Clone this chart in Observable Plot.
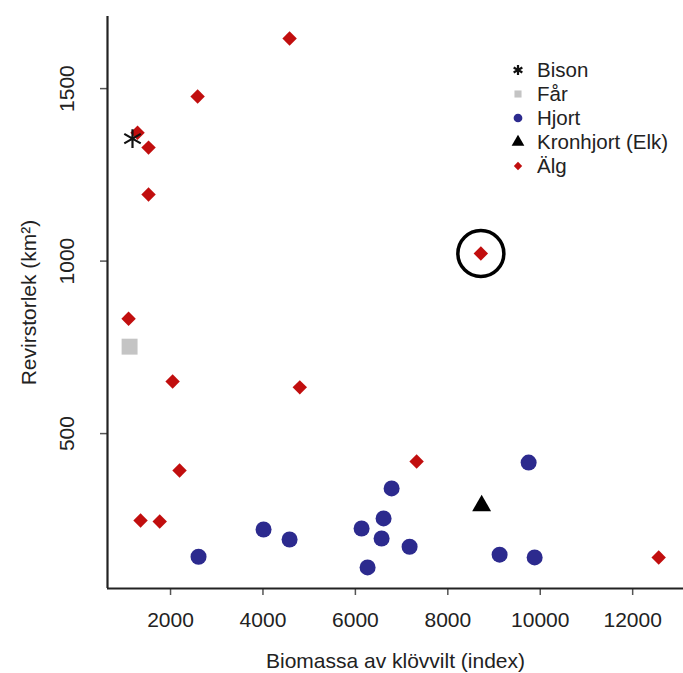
<!DOCTYPE html>
<html>
<head>
<meta charset="utf-8">
<script src="https://cdn.jsdelivr.net/npm/d3@7"></script>
<script src="https://cdn.jsdelivr.net/npm/@observablehq/plot@0.6"></script>
<style>
  html, body { margin: 0; padding: 0; background: #fff; }
  #wrap { position: relative; width: 683px; height: 673px; font-family: "Liberation Sans", Arial, sans-serif; }
  #legend { position: absolute; left: 505px; top: 58px; font-size: 20.5px; color: #222; line-height: 24px; }
  #legend .row { display: flex; align-items: center; height: 24px; white-space: nowrap; }
  #legend svg { width: 26px; height: 24px; margin-right: 6px; overflow: visible; }
</style>
</head>
<body>
<div id="wrap"><div id="legend"></div></div>
<script>
// ---- data ----
const speciesNames = ["Bison", "Får", "Hjort", "Kronhjort (Elk)", "Älg"];
const speciesColors = ["#111111", "#c4c4c4", "#2c2a8e", "#000000", "#c10e0e"];
const speciesSymbols = ["asterisk", "square", "circle", "triangle", "diamond2"];

const bisonX = [1177];
const bisonY = [1355];

const farX = [1114];
const farY = [752];

const hjortX = [2606, 4013, 4576, 6134, 6264, 6567, 6610, 6784, 7173, 9121, 9879, 9749];
const hjortY = [143, 222, 193, 225, 112, 196, 254, 341, 172, 149, 141, 416];

const elkX = [8732];
const elkY = [291];

const algX = [4576, 2586, 1286, 1524, 1524, 1092, 2045, 4797, 8715, 2195, 1351, 1766, 7325, 12563];
const algY = [1645, 1477, 1372, 1329, 1193, 833, 651, 634, 1022, 393, 248, 245, 419, 141];
const circledAlgIndex = 8; // the encircled moose point

const xTicks = [2000, 4000, 6000, 8000, 10000, 12000];
const yTicks = [500, 1000, 1500];
const xTitle = "Biomassa av klövvilt (index)";
const yTitle = "Revirstorlek (km²)";

// ---- build tables ----
const toRows = (xs, ys, sp) => xs.map((x, i) => ({x, y: ys[i], species: sp}));
const bison = toRows(bisonX, bisonY, "Bison");
const far = toRows(farX, farY, "Får");
const hjort = toRows(hjortX, hjortY, "Hjort");
const elk = toRows(elkX, elkY, "Kronhjort (Elk)");
const alg = toRows(algX, algY, "Älg");
const circled = [alg[circledAlgIndex]];

const axisColor = "#222";
const chart = Plot.plot({
  width: 683,
  height: 673,
  marginLeft: 107,
  marginRight: 0,
  marginTop: 16,
  marginBottom: 85,
  style: {fontFamily: "'Liberation Sans', Arial, sans-serif", fontSize: "21px", color: "#222", background: "#fff"},
  x: {domain: [636, 13100]},
  y: {domain: [51, 1709]},
  marks: [
    Plot.axisX({ticks: xTicks, tickSize: 7, tickPadding: 17, tickFormat: d => String(d),
      stroke: "#555", strokeWidth: 1.5, fill: "#222",
      label: xTitle, labelAnchor: "center", labelArrow: "none", labelOffset: 79}),
    Plot.axisY({ticks: yTicks, tickSize: 7, tickPadding: 27, tickRotate: -90, tickFormat: d => String(d),
      stroke: "#555", strokeWidth: 1.5, fill: "#222",
      label: yTitle, labelAnchor: "center", labelArrow: "none", labelOffset: 86}),
    Plot.ruleX([636], {stroke: axisColor, strokeWidth: 2.2}),
    Plot.ruleY([51], {stroke: axisColor, strokeWidth: 2.2}),
    Plot.dot(far, {x: "x", y: "y", symbol: "square", r: 9, fill: speciesColors[1]}),
    Plot.dot(hjort, {x: "x", y: "y", symbol: "circle", r: 8, fill: speciesColors[2]}),
    Plot.dot(elk, {x: "x", y: "y", symbol: "triangle", r: 7, fill: speciesColors[3]}),
    Plot.dot(alg, {x: "x", y: "y", symbol: "diamond2", r: 6.5, fill: speciesColors[4]}),
    Plot.dot(bison, {x: "x", y: "y", symbol: "asterisk", r: 9, stroke: speciesColors[0], strokeWidth: 2.2}),
    Plot.dot(circled, {x: "x", y: "y", r: 23, stroke: "#000", strokeWidth: 3.5, fill: "none"})
  ]
});
document.getElementById("wrap").prepend(chart);

// ---- legend ----
const legend = d3.select("#legend");
const legendSizes = [70, 50, 60, 70, 45];
speciesNames.forEach((name, i) => {
  const row = legend.append("div").attr("class", "row");
  const svg = row.append("svg");
  const sym = {asterisk: d3.symbolAsterisk, square: d3.symbolSquare, circle: d3.symbolCircle,
               triangle: d3.symbolTriangle, diamond2: d3.symbolDiamond2}[speciesSymbols[i]];
  const p = svg.append("path").attr("transform", "translate(13,12)")
    .attr("d", d3.symbol(sym, legendSizes[i])());
  if (speciesSymbols[i] === "asterisk") p.attr("fill", "none").attr("stroke", speciesColors[i]).attr("stroke-width", 2.2);
  else p.attr("fill", speciesColors[i]);
  row.append("span").text(name);
});
</script>
</body>
</html>
